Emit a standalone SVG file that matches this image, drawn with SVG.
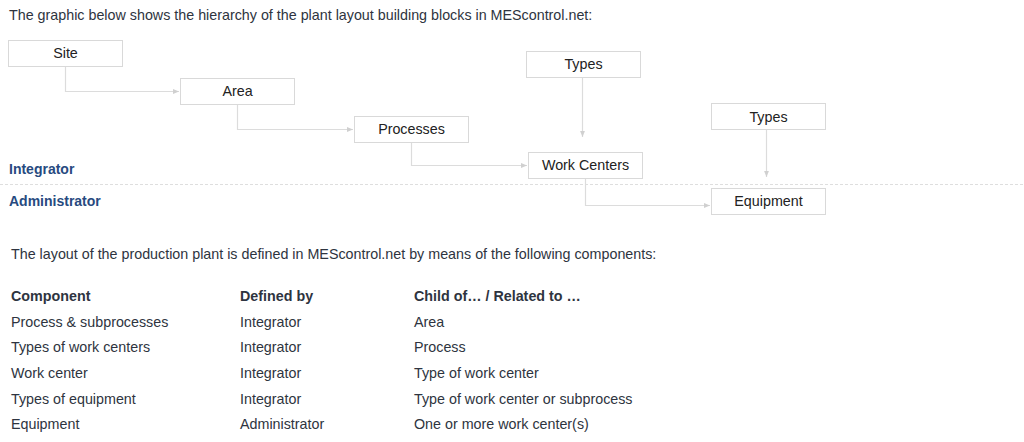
<svg xmlns="http://www.w3.org/2000/svg" width="1024" height="442" viewBox="0 0 1024 442">
<style>
text{font-family:"Liberation Sans",Arial,sans-serif;font-size:14.3px;fill:#2e3440}
.box{fill:#fff;stroke:#d9d9d9;stroke-width:1}
.lbl{text-anchor:middle;fill:#222}
.role{font-weight:bold;fill:#274a80;font-size:14px}
.hd{font-weight:bold}
.con{fill:none;stroke:#dcdcdc;stroke-width:1.2}
</style>
<defs>
<marker id="ah" viewBox="0 0 10 10" refX="10" refY="5" markerWidth="6" markerHeight="6" orient="auto" markerUnits="userSpaceOnUse">
<path d="M0,1 L10,5 L0,9 z" fill="#d0d0d0"/>
</marker>
</defs>
<rect width="1024" height="442" fill="#fff"/>
<text x="9" y="20">The graphic below shows the hierarchy of the plant layout building blocks in MEScontrol.net:</text>
<line x1="0" y1="184.5" x2="1024" y2="184.5" stroke="#dedede" stroke-dasharray="3,2"/>
<text class="role" x="9" y="174">Integrator</text>
<text class="role" x="9" y="206">Administrator</text>
<g id="connectors">
<path class="con" d="M65.5,67 V91.5 H179" marker-end="url(#ah)"/>
<path class="con" d="M237.5,104 V129.5 H353" marker-end="url(#ah)"/>
<path class="con" d="M411.5,142 V165.5 H527" marker-end="url(#ah)"/>
<path class="con" d="M582.5,78 V137" marker-end="url(#ah)"/>
<path class="con" d="M766.5,130 V177" marker-end="url(#ah)"/>
<path class="con" d="M585.5,179 V205.5 H710" marker-end="url(#ah)"/>
</g>
<g id="site"><rect class="box" x="8.5" y="40.5" width="114" height="26"/><text class="lbl" x="65.5" y="58">Site</text></g>
<g id="area"><rect class="box" x="180.5" y="78.5" width="114" height="26"/><text class="lbl" x="237.5" y="96">Area</text></g>
<g id="processes"><rect class="box" x="354.5" y="116.5" width="114" height="26"/><text class="lbl" x="411.5" y="134">Processes</text></g>
<g id="types1"><rect class="box" x="526.5" y="51.5" width="114" height="26"/><text class="lbl" x="583.5" y="69">Types</text></g>
<g id="workcenters"><rect class="box" x="528.5" y="152.5" width="114" height="26"/><text class="lbl" x="585.5" y="170">Work Centers</text></g>
<g id="types2"><rect class="box" x="711.5" y="103.5" width="114" height="26"/><text class="lbl" x="768.5" y="122">Types</text></g>
<g id="equipment"><rect class="box" x="711.5" y="188.5" width="114" height="26"/><text class="lbl" x="768.5" y="206">Equipment</text></g>
<text x="11" y="259">The layout of the production plant is defined in MEScontrol.net by means of the following components:</text>
<g id="table">
<text class="hd" x="11" y="301">Component</text>
<text class="hd" x="240" y="301">Defined by</text>
<text class="hd" x="414" y="301">Child of… / Related to …</text>
<text x="11" y="327">Process &amp; subprocesses</text>
<text x="240" y="327">Integrator</text>
<text x="414" y="327">Area</text>
<text x="11" y="352">Types of work centers</text>
<text x="240" y="352">Integrator</text>
<text x="414" y="352">Process</text>
<text x="11" y="378">Work center</text>
<text x="240" y="378">Integrator</text>
<text x="414" y="378">Type of work center</text>
<text x="11" y="404">Types of equipment</text>
<text x="240" y="404">Integrator</text>
<text x="414" y="404">Type of work center or subprocess</text>
<text x="11" y="429">Equipment</text>
<text x="240" y="429">Administrator</text>
<text x="414" y="429">One or more work center(s)</text>
</g>
</svg>
